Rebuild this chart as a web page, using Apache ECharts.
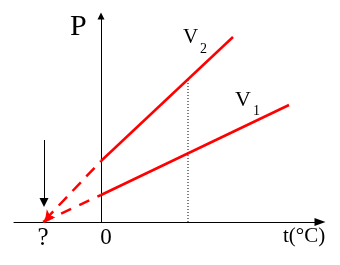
<!DOCTYPE html>
<html><head><meta charset="utf-8">
<script src="https://cdn.jsdelivr.net/npm/echarts@6/dist/echarts.min.js"></script>
<style>html,body{margin:0;padding:0;background:#fff}#c{width:340px;height:265px}</style>
</head><body><div id="c"></div>
<script>
// axis extents (t and P in arbitrary units)
const tRange = [-87, 219];
const pRange = [0, 206];
// x-axis labels
const tickValues = [-58, 0];
const tickLabels = ['?', '0'];
// lines: [t, P]
const v2Dashed = [[-56, 2], [0, 61]];
const v2Solid = [[0, 61], [132, 185]];
const v1Dashed = [[-58, 0], [0, 27]];
const v1Solid = [[0, 27], [188, 117]];
const dottedGuide = [[87, 0], [87, 142]];
const pointer = [[-57, 82], [-57, 19.5]];

const serif = "'Liberation Serif','Times New Roman',serif";
const chart = echarts.init(document.getElementById('c'), null, {renderer: 'canvas'});
const red = '#ff0000';
chart.setOption({
  animation: false,
  grid: {left: 14, right: 340 - 320, top: 222 - pRange[1], bottom: 43, containLabel: false},
  xAxis: {
    type: 'value', min: tRange[0], max: tRange[1],
    axisLine: {show: true, onZero: true, symbol: ['none', 'triangle'], symbolSize: [8, 11], lineStyle: {color: '#000', width: 1}},
    axisTick: {show: false}, splitLine: {show: false},
    axisLabel: {
      show: true, customValues: tickValues, margin: 4,
      fontFamily: serif, fontSize: 23, color: '#000',
      formatter: v => { const i = tickValues.indexOf(v); return i === 1 ? '{z|' + tickLabels[i] + '}' : '{q|' + tickLabels[i] + '}'; },
      rich: {
        z: {fontFamily: serif, fontSize: 23, color: '#000', padding: [0, 0, 0, 10]},
        q: {fontFamily: serif, fontSize: 25, color: '#000', padding: [0, 0, 0, 0]}
      }
    }
  },
  yAxis: {
    type: 'value', min: pRange[0], max: pRange[1],
    axisLine: {show: true, onZero: true, symbol: ['none', 'triangle'], symbolSize: [7, 7], lineStyle: {color: '#000', width: 1}},
    axisTick: {show: false}, splitLine: {show: false}, axisLabel: {show: false}
  },
  series: [
    {type: 'line', data: dottedGuide, showSymbol: false, lineStyle: {color: '#000', width: 1, type: [1, 2]}},
    {type: 'line', data: v2Solid, showSymbol: false, lineStyle: {color: red, width: 2.5}},
    {type: 'line', data: v1Solid, showSymbol: false, lineStyle: {color: red, width: 2.5}},
    {type: 'lines', coordinateSystem: 'cartesian2d', symbol: ['arrow', 'none'], symbolSize: [9, 10],
      lineStyle: {color: red, width: 2.5, type: [12, 8], opacity: 1},
      data: [{coords: v2Dashed}]},
    {type: 'lines', coordinateSystem: 'cartesian2d', symbol: ['none', 'none'],
      lineStyle: {color: red, width: 2.5, type: [11, 9], opacity: 1},
      data: [{coords: v1Dashed}]},
    {type: 'lines', coordinateSystem: 'cartesian2d', symbol: ['none', 'triangle'], symbolSize: [10, 9],
      lineStyle: {color: '#000', width: 1, opacity: 1},
      data: [{coords: pointer}]}
  ],
  graphic: [
    {type: 'text', left: 70, top: 12, style: {text: 'P', font: '30px ' + serif, fill: '#000'}},
    {type: 'text', left: 183, top: 27, style: {text: 'V', font: '21px ' + serif, fill: '#000'}},
    {type: 'text', left: 200, top: 42, style: {text: '2', font: '14px ' + serif, fill: '#000'}},
    {type: 'text', left: 235, top: 89, style: {text: 'V', font: '22px ' + serif, fill: '#000'}},
    {type: 'text', left: 253, top: 104, style: {text: '1', font: '14px ' + serif, fill: '#000'}},
    {type: 'text', left: 283, top: 226, style: {text: 't(°C)', font: '21px ' + serif, fill: '#000'}}
  ]
});
</script></body></html>
